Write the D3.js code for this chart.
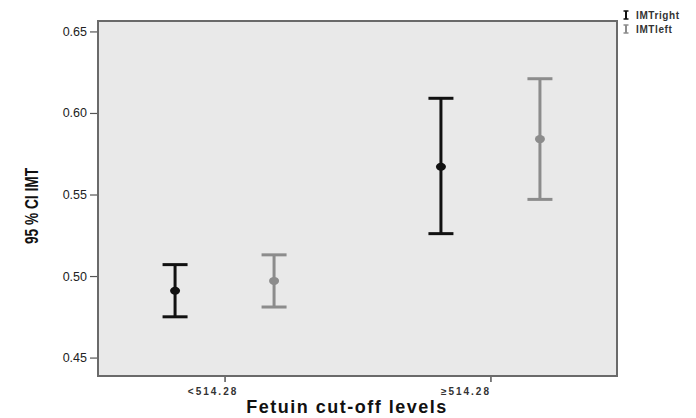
<!DOCTYPE html>
<html>
<head>
<meta charset="utf-8">
<script src="https://cdn.jsdelivr.net/npm/d3@7"></script>
<style>
  body { margin: 0; background: #fff; }
  text { font-family: "Liberation Sans", Arial, sans-serif; }
</style>
</head>
<body>
<script>
// data
var categories = ["<514.28", "\u2265514.28"];
var seriesNames = ["IMTright", "IMTleft"];
var rightMean = [0.491, 0.567],
    rightLow = [0.475, 0.526],
    rightHigh = [0.507, 0.609];
var leftMean = [0.497, 0.584],
    leftLow = [0.481, 0.547],
    leftHigh = [0.513, 0.621];
var yTicks = [0.45, 0.50, 0.55, 0.60, 0.65];

var width = 696, height = 418;
var plot = {left: 98, right: 617, top: 21, bottom: 376};
var colors = {IMTright: "#111", IMTleft: "#8c8c8c"};

var svg = d3.select("body").append("svg")
    .attr("width", width)
    .attr("height", height);

var x = d3.scalePoint()
    .domain(categories)
    .range([plot.left, plot.right])
    .padding(0.476);

var inner = d3.scalePoint()
    .domain(seriesNames)
    .range([-49.5, 49.5]);

var y = d3.scaleLinear()
    .domain([0.4387, 0.6564])
    .range([plot.bottom, plot.top]);

// plot frame
svg.append("rect")
    .attr("x", plot.left)
    .attr("y", plot.top)
    .attr("width", plot.right - plot.left)
    .attr("height", plot.bottom - plot.top)
    .attr("fill", "#e9e9e9")
    .attr("stroke", "#6a6a6a")
    .attr("stroke-width", 2);

// y axis
var yAxis = d3.axisLeft(y)
    .tickValues(yTicks)
    .tickFormat(d3.format(".2f"))
    .tickSize(7)
    .tickPadding(3);

var gy = svg.append("g")
    .attr("transform", "translate(" + (plot.left - 1) + ",0)")
    .call(yAxis);
gy.select(".domain").remove();
gy.selectAll(".tick line").attr("stroke", "#555").attr("stroke-width", 1.2);
gy.selectAll(".tick text")
    .attr("fill", "#222")
    .style("font-size", "12.5px")
    .style("font-family", "'Liberation Sans', Arial, sans-serif");

// x axis
var xAxis = d3.axisBottom(x).tickSize(5).tickPadding(6);
var gx = svg.append("g")
    .attr("transform", "translate(0," + (plot.bottom + 1) + ")")
    .call(xAxis);
gx.select(".domain").remove();
gx.selectAll(".tick line").attr("stroke", "#555").attr("stroke-width", 1.5);
var labelShift = [-12, -25];
gx.selectAll(".tick text")
    .attr("fill", "#333")
    .attr("dx", function (d, i) { return labelShift[i]; })
    .style("font-size", "10px")
    .style("font-weight", "bold")
    .style("letter-spacing", "2px")
    .style("font-family", "'Liberation Sans', Arial, sans-serif");

// axis titles
svg.append("text")
    .attr("x", 347)
    .attr("y", 413)
    .attr("text-anchor", "middle")
    .attr("fill", "#111")
    .style("font-size", "18px")
    .style("font-weight", "bold")
    .style("letter-spacing", "1.5px")
    .text("Fetuin cut-off levels");

svg.append("text")
    .attr("transform", "translate(38,206) rotate(-90) scale(0.72,1)")
    .attr("text-anchor", "middle")
    .attr("fill", "#111")
    .style("font-size", "19px")
    .style("font-weight", "bold")
    .text("95 % CI IMT");

// error bars
var rows = [];
categories.forEach(function (c, i) {
    rows.push({cat: c, name: "IMTright", mean: rightMean[i], lo: rightLow[i], hi: rightHigh[i]});
    rows.push({cat: c, name: "IMTleft", mean: leftMean[i], lo: leftLow[i], hi: leftHigh[i]});
});

var cap = 12.5;
var bars = svg.append("g").selectAll("g")
    .data(rows)
    .enter().append("g")
    .attr("transform", function (d) { return "translate(" + (x(d.cat) + inner(d.name)) + ",0)"; })
    .attr("stroke", function (d) { return colors[d.name]; })
    .attr("fill", function (d) { return colors[d.name]; })
    .attr("stroke-width", 3);

bars.append("line")
    .attr("x1", 0).attr("x2", 0)
    .attr("y1", function (d) { return y(d.hi); })
    .attr("y2", function (d) { return y(d.lo); });
bars.append("line")
    .attr("x1", -cap).attr("x2", cap)
    .attr("y1", function (d) { return y(d.hi); })
    .attr("y2", function (d) { return y(d.hi); });
bars.append("line")
    .attr("x1", -cap).attr("x2", cap)
    .attr("y1", function (d) { return y(d.lo); })
    .attr("y2", function (d) { return y(d.lo); });
bars.append("ellipse")
    .attr("cx", 0)
    .attr("cy", function (d) { return y(d.mean); })
    .attr("rx", 5).attr("ry", 4)
    .attr("stroke", "none");

// legend
var legend = svg.append("g").selectAll("g")
    .data(seriesNames)
    .enter().append("g")
    .attr("transform", function (d, i) { return "translate(626," + (15 + i * 14) + ")"; });

legend.each(function (d) {
    var g = d3.select(this);
    var col = colors[d];
    g.append("line").attr("x1", 0).attr("x2", 0).attr("y1", -4).attr("y2", 4)
        .attr("stroke", col).attr("stroke-width", 2);
    g.append("line").attr("x1", -2.5).attr("x2", 2.5).attr("y1", -4).attr("y2", -4)
        .attr("stroke", col).attr("stroke-width", 1.5);
    g.append("line").attr("x1", -2.5).attr("x2", 2.5).attr("y1", 4).attr("y2", 4)
        .attr("stroke", col).attr("stroke-width", 1.5);
});

legend.append("text")
    .attr("x", 10)
    .attr("y", 3.5)
    .attr("fill", "#333")
    .style("font-size", "10px")
    .style("font-weight", "bold")
    .style("letter-spacing", "0.6px")
    .text(function (d) { return d; });
</script>
</body>
</html>
